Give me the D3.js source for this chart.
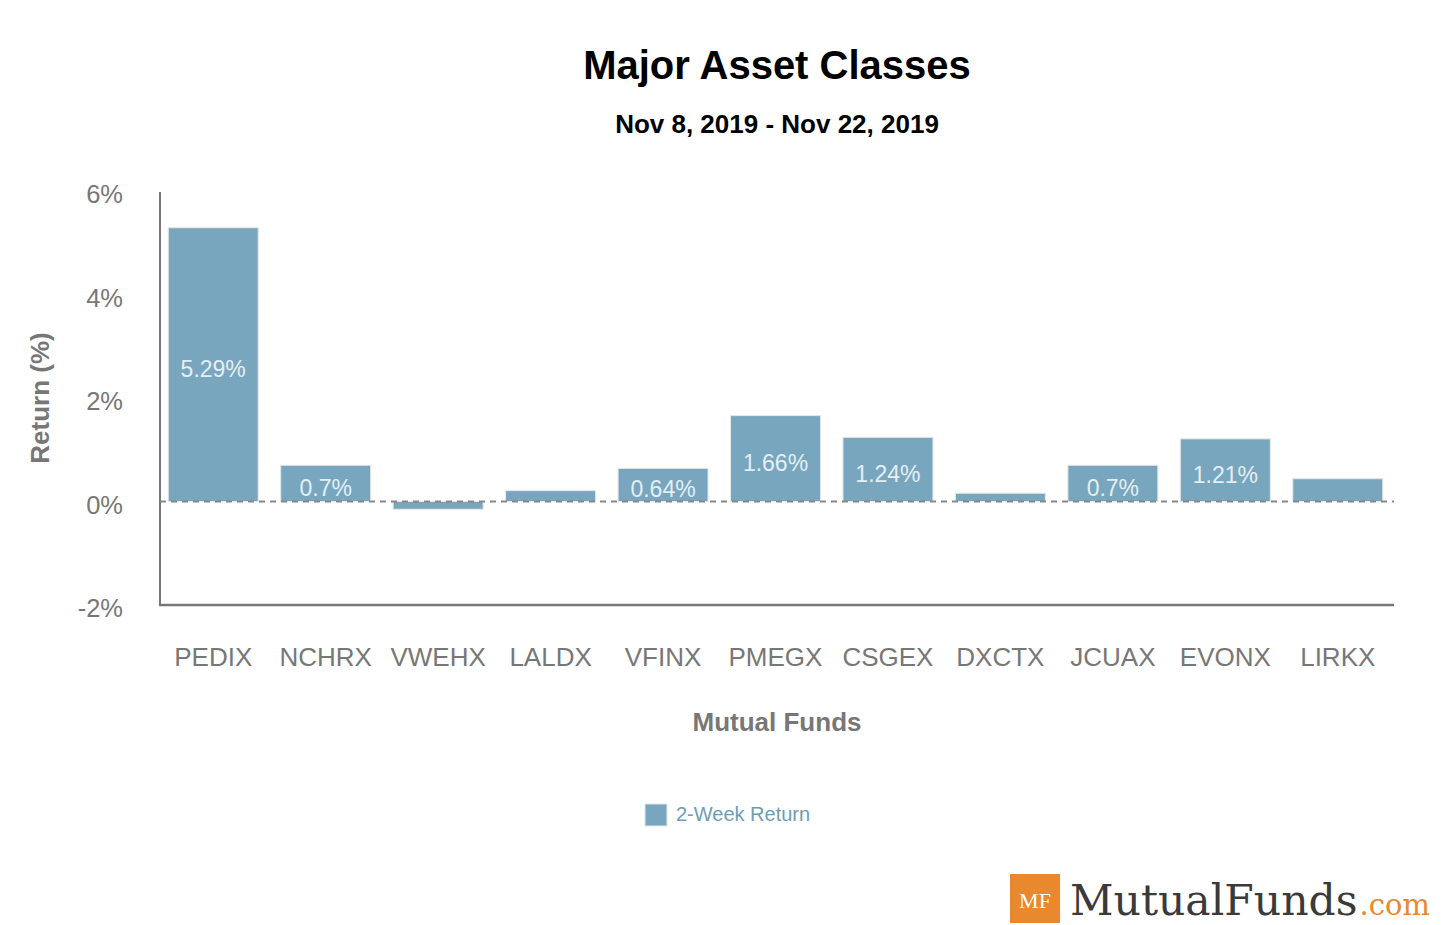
<!DOCTYPE html>
<html>
<head>
<meta charset="utf-8">
<script src="https://cdn.jsdelivr.net/npm/d3@7"></script>
<style>
  body { margin: 0; background: #fff; }
  svg { font-family: "Liberation Sans", Arial, sans-serif; }
</style>
</head>
<body>
<svg id="chart" width="1445" height="925"></svg>
<script>
// Données
const FUNDS = ["PEDIX", "NCHRX", "VWEHX", "LALDX", "VFINX", "PMEGX", "CSGEX", "DXCTX", "JCUAX", "EVONX", "LIRKX"];
const RETURNS = [5.29, 0.7, -0.15, 0.21, 0.64, 1.66, 1.24, 0.16, 0.7, 1.21, 0.44];
const Y_TICKS = [-2, 0, 2, 4, 6];

const BAR_COLOR = "#79a6bf";
const AXIS_COLOR = "#777";

const svg = d3.select("#chart");

const x = d3.scaleBand()
  .domain(FUNDS)
  .range([157, 1394])
  .paddingInner(0.2)
  .paddingOuter(0.1);

const y = d3.scaleLinear()
  .domain([-2, 6])
  .range([605, 191]);

// Titres
svg.append("text")
  .attr("x", 777).attr("y", 79)
  .attr("text-anchor", "middle")
  .attr("font-size", 40).attr("font-weight", "bold")
  .attr("fill", "#000")
  .text("Major Asset Classes");

svg.append("text")
  .attr("x", 777).attr("y", 133)
  .attr("text-anchor", "middle")
  .attr("font-size", 26).attr("font-weight", "bold")
  .attr("fill", "#000")
  .text("Nov 8, 2019 - Nov 22, 2019");

// Barres
svg.selectAll("rect.bar")
  .data(RETURNS)
  .enter()
  .append("rect")
  .attr("class", "bar")
  .attr("x", (d, i) => x(FUNDS[i]))
  .attr("width", x.bandwidth())
  .attr("y", d => y(Math.max(0, d)))
  .attr("height", d => Math.abs(y(d) - y(0)))
  .attr("fill", BAR_COLOR)
  .attr("stroke", "#e6e6e6")
  .attr("stroke-width", 1);

// Ligne du zéro en pointillés
svg.append("line")
  .attr("x1", 160).attr("x2", 1394)
  .attr("y1", y(0)).attr("y2", y(0))
  .attr("stroke", "#888")
  .attr("stroke-width", 2)
  .attr("stroke-dasharray", "6,5");

// Étiquettes de valeur dans les barres assez hautes
RETURNS.forEach((d, i) => {
  if (Math.abs(y(d) - y(0)) <= 28) return;
  svg.append("text")
    .attr("class", "value")
    .attr("x", x(FUNDS[i]) + x.bandwidth() / 2)
    .attr("y", (y(d) + y(0)) / 2 + 12.5)
    .attr("text-anchor", "middle")
    .attr("font-size", 23)
    .attr("fill", "#e4eef4")
    .text(d + "%");
});

// Axes
svg.append("line")
  .attr("x1", 160).attr("x2", 160)
  .attr("y1", 192).attr("y2", 605)
  .attr("stroke", AXIS_COLOR).attr("stroke-width", 2);

svg.append("line")
  .attr("x1", 159).attr("x2", 1394)
  .attr("y1", 605).attr("y2", 605)
  .attr("stroke", AXIS_COLOR).attr("stroke-width", 2.5);

svg.selectAll("text.ytick")
  .data(Y_TICKS)
  .enter()
  .append("text")
  .attr("class", "ytick")
  .attr("x", 123)
  .attr("y", d => y(d) + 12)
  .attr("text-anchor", "end")
  .attr("font-size", 25.5)
  .attr("fill", AXIS_COLOR)
  .text(d => d + "%");

svg.selectAll("text.xtick")
  .data(FUNDS)
  .enter()
  .append("text")
  .attr("class", "xtick")
  .attr("x", d => x(d) + x.bandwidth() / 2)
  .attr("y", 666)
  .attr("text-anchor", "middle")
  .attr("font-size", 26)
  .attr("fill", AXIS_COLOR)
  .text(d => d);

svg.append("text")
  .attr("x", 777).attr("y", 731)
  .attr("text-anchor", "middle")
  .attr("font-size", 26).attr("font-weight", "bold")
  .attr("fill", AXIS_COLOR)
  .text("Mutual Funds");

svg.append("text")
  .attr("transform", "translate(49,398) rotate(-90)")
  .attr("text-anchor", "middle")
  .attr("font-size", 26).attr("font-weight", "bold")
  .attr("fill", AXIS_COLOR)
  .text("Return (%)");

// Légende
svg.append("rect")
  .attr("x", 645).attr("y", 804)
  .attr("width", 22).attr("height", 22)
  .attr("fill", BAR_COLOR)
  .attr("stroke", "#e6e6e6");

svg.append("text")
  .attr("x", 676).attr("y", 821)
  .attr("font-size", 20)
  .attr("fill", "#6e9cb8")
  .text("2-Week Return");

// Logo MutualFunds.com
svg.append("rect")
  .attr("x", 1010).attr("y", 874)
  .attr("width", 50).attr("height", 49)
  .attr("fill", "#e8892f");

svg.append("text")
  .attr("x", 1035).attr("y", 908)
  .attr("text-anchor", "middle")
  .attr("font-family", "'Liberation Serif', 'DejaVu Serif', serif")
  .attr("font-size", 22)
  .attr("fill", "#fff")
  .text("MF");

const BRAND = svg.append("text")
  .attr("x", 1070).attr("y", 915)
  .attr("font-family", "'DejaVu Serif', 'Liberation Serif', serif")
  .attr("font-size", 42.5)
  .attr("fill", "#3a3a3a")
  .text("MutualFunds");

const brandEnd = 1070 + BRAND.node().getComputedTextLength();

svg.append("text")
  .attr("x", brandEnd + 2).attr("y", 915)
  .attr("font-family", "'DejaVu Serif', 'Liberation Serif', serif")
  .attr("font-size", 29)
  .attr("fill", "#e8892f")
  .text(".com");
</script>
</body>
</html>
